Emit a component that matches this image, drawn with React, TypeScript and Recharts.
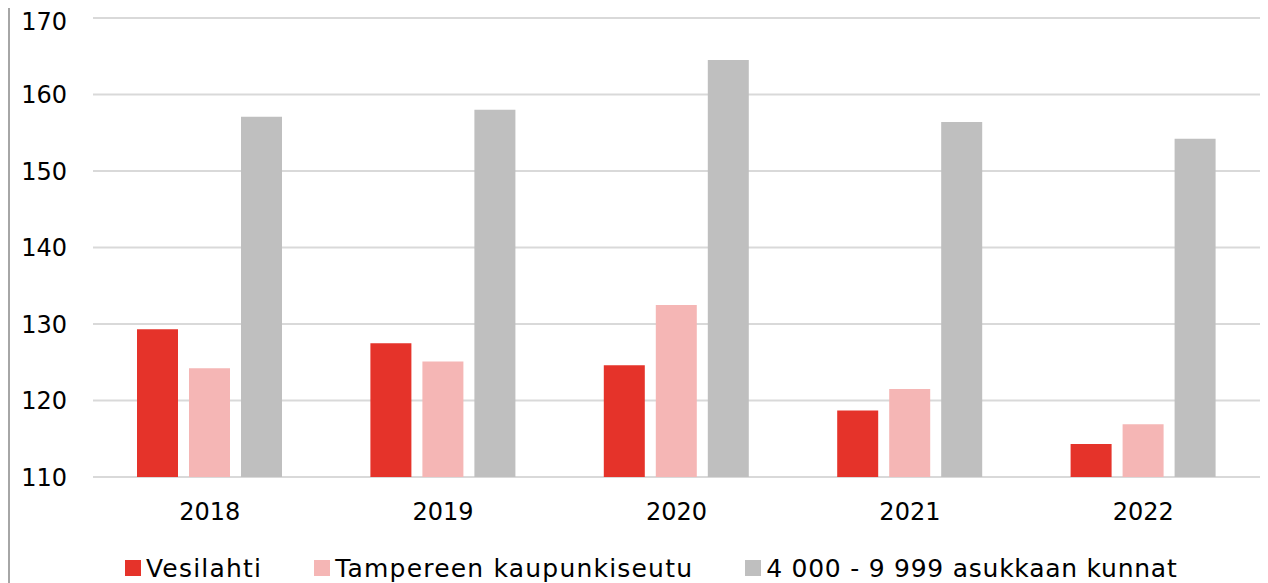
import React from "react";
import { BarChart, Bar, XAxis, YAxis, CartesianGrid, Legend } from "recharts";

const years = ["2018", "2019", "2020", "2021", "2022"];
const vesilahti = [129.3, 127.5, 124.6, 118.7, 114.3];
const tampere = [124.2, 125.1, 132.5, 121.5, 116.9];
const kunnat = [157.1, 158.0, 164.5, 156.4, 154.2];
const yTicks = [110, 120, 130, 140, 150, 160, 170];

const seriesNames = ["Vesilahti", "Tampereen kaupunkiseutu", "4 000 - 9 999 asukkaan kunnat"];
const seriesKeys = ["v", "t", "k"];
const seriesColors = ["#e5332a", "#f5b6b5", "#bfbfbf"];

const data = years.map((y, i) => ({ year: y, v: vesilahti[i], t: tampere[i], k: kunnat[i] }));

const FONT = "'DejaVu Sans', sans-serif";
const legendSpacing = [1.2, 1.2, 0.75];

const LegendContent = () => (
  <div
    style={{
      display: "flex",
      justifyContent: "flex-start",
      alignItems: "center",
      height: 30,
      fontFamily: FONT,
      fontSize: 25,
      color: "#000",
      paddingLeft: 117,
    }}
  >
    {seriesNames.map((n, i) => (
      <div key={n} style={{ display: "flex", alignItems: "center", marginRight: i < 2 ? 52 : 0 }}>
        <div style={{ width: 16, height: 16, background: seriesColors[i], marginRight: 5 }} />
        <span style={{ whiteSpace: "nowrap", letterSpacing: legendSpacing[i] }}>{n}</span>
      </div>
    ))}
  </div>
);

export default function App() {
  return (
    <div style={{ position: "relative", width: 1260, height: 575 }}>
      <div
        style={{
          position: "absolute",
          left: 0,
          top: 0,
          width: 2,
          height: 575,
          background: "#a6a6a6",
          zIndex: 5,
        }}
      />
      <BarChart
        width={1260}
        height={575}
        data={data}
        margin={{ top: 10, right: 8, left: 0, bottom: 0 }}
        barSize={41}
        barGap={11}
      >
        <CartesianGrid vertical={false} stroke="#d9d9d9" strokeWidth={2} />
        <XAxis
          dataKey="year"
          axisLine={false}
          tickLine={false}
          height={76}
          tickMargin={20}
          tick={{ fontFamily: FONT, fontSize: 24, fill: "#000" }}
        />
        <YAxis
          domain={[110, 170]}
          ticks={yTicks}
          width={85}
          axisLine={false}
          tickLine={false}
          tickMargin={20}
          tick={{ fontFamily: FONT, fontSize: 24, fill: "#000" }}
        />
        <Legend verticalAlign="bottom" height={30} content={<LegendContent />} />
        {seriesKeys.map((k, i) => (
          <Bar key={k} dataKey={k} name={seriesNames[i]} fill={seriesColors[i]} isAnimationActive={false} />
        ))}
      </BarChart>
    </div>
  );
}
